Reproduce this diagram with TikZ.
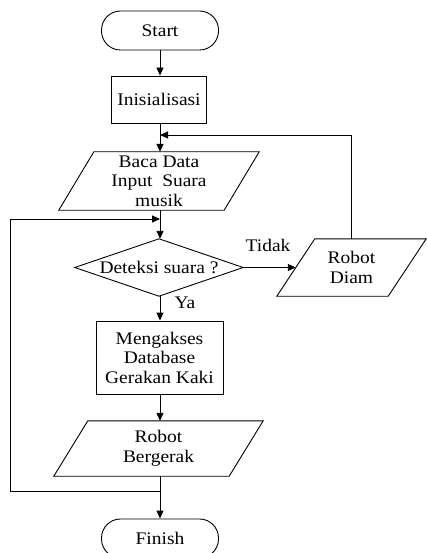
\documentclass[tikz,border=0pt]{standalone}
\usepackage{fontspec}
\setmainfont[FakeStretch=1.1]{Liberation Serif}
\usetikzlibrary{arrows.meta}
\begin{document}
\begin{tikzpicture}[x=1pt,y=-1pt,
  every node/.style={font=\fontsize{17.7}{19.5}\selectfont, align=center, inner sep=0pt},
  line/.style={line width=0.9pt, draw=black},
  arr/.style={line, -{Triangle[length=8pt,width=7pt]}},
  term/.style={line, rectangle, rounded corners=19pt, minimum width=117pt, minimum height=39pt},
  proc/.style={line, rectangle},
  box/.style={rectangle, draw=none}]
\useasboundingbox (0,0) rectangle (426,553);

\node[term] (start) at (160,30.5) {Start};
\node[proc, minimum width=95pt, minimum height=47pt] (init) at (159,99.5) {Inisialisasi};
\node[box, minimum width=200pt, minimum height=58pt] (baca) at (159,181) {Baca Data\\Input\ \ Suara\\musik};
\draw[line] ([xshift=35pt]baca.north west) -- (baca.north east) -- ([xshift=-35pt]baca.south east) -- (baca.south west) -- cycle;
\node[box, minimum width=168pt, minimum height=57pt] (det) at (159,267.5) {Deteksi suara ?};
\draw[line] (det.north) -- (det.east) -- (det.south) -- (det.west) -- cycle;
\node[box, minimum width=149pt, minimum height=57pt] (diam) at (351.5,267.5) {Robot\\Diam};
\draw[line] ([xshift=38pt]diam.north west) -- (diam.north east) -- ([xshift=-38pt]diam.south east) -- (diam.south west) -- cycle;
\node[proc, minimum width=127pt, minimum height=73pt] (meng) at (159.5,357.5) {Mengakses\\Database\\Gerakan Kaki};
\node[box, minimum width=209pt, minimum height=55pt] (berg) at (158.5,448.5) {Robot\\Bergerak};
\draw[line] ([xshift=34pt]berg.north west) -- (berg.north east) -- ([xshift=-34pt]berg.south east) -- (berg.south west) -- cycle;
\node[term] (finish) at (160,538.5) {Finish};

\node (tidak) at (268,245) {Tidak};
\node (ya) at (185,303) {Ya};

\coordinate (j1) at (160,135);
\coordinate (j3) at (160,219);
\coordinate (j2) at (160,491);
\coordinate (l1) at (10,491);
\coordinate (dl) at ([xshift=19pt]diam.west);

\draw[arr] (start.south -| 160,0) -- (init.north -| 160,0);
\draw[arr] (init.south -| 160,0) -- (baca.north -| 160,0);
\draw[arr] (baca.south -| 160,0) -- (det.north -| 160,0);
\draw[arr] (det.east) -- (dl);
\draw[arr] (det.south -| 160,0) -- (meng.north -| 160,0);
\draw[arr] (meng.south -| 160,0) -- (berg.north -| 160,0);
\draw[arr] (berg.south -| 160,0) -- (finish.north -| 160,0);
\draw[arr] (diam.north) |- (j1);
\draw[arr] (j2) -- (l1) |- (j3);
\end{tikzpicture}
\end{document}
